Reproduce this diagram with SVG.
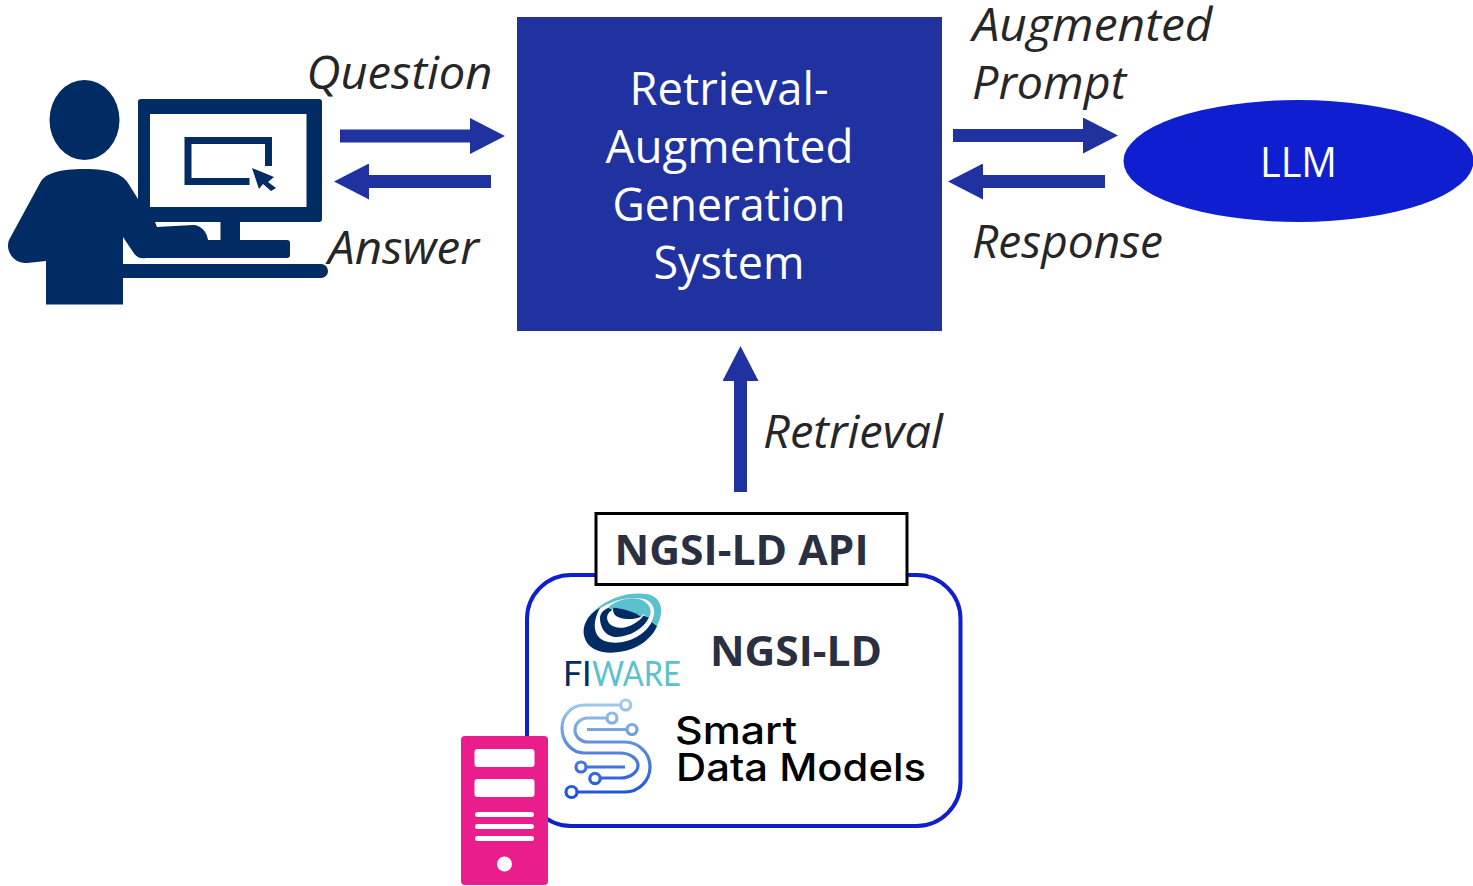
<svg xmlns="http://www.w3.org/2000/svg" width="1473" height="886" viewBox="0 0 1473 886">
<style>
text{font-family:"Open Sans","Noto Sans","Liberation Sans",sans-serif}
.w{fill:#fff;font-size:45px;text-anchor:middle}
.i{fill:#262626;font-size:45px;font-style:italic}
.b{fill:#2a3042;font-size:41px;font-weight:700}
.s{fill:#000;font-size:38px;font-weight:500;font-family:Inter,"Open Sans",sans-serif}
.f{font-size:34px;font-weight:400;font-family:Lato,"Open Sans",sans-serif}
.a{stroke:#1f32a0;stroke-width:13;fill:none}
.n{fill:#002b63}
.lg{fill:none;stroke:url(#sdm);stroke-width:3.200}
</style>
<defs>
<marker id="h" markerUnits="userSpaceOnUse" markerWidth="36" markerHeight="36" refX="0" refY="18" orient="auto"><path d="M0,0L35,18L0,36Z" fill="#1f32a0"/></marker>
<linearGradient id="sdm" gradientUnits="userSpaceOnUse" x1="0" y1="700" x2="0" y2="798"><stop offset="0" stop-color="#a5d0ea"/><stop offset=".45" stop-color="#5f8fdc"/><stop offset="1" stop-color="#1a4fd8"/></linearGradient>
</defs>

<g id="connectors">
<line class="a" x1="340" y1="136" x2="470" y2="136" marker-end="url(#h)"/>
<line class="a" x1="491" y1="181.500" x2="369" y2="181.500" marker-end="url(#h)"/>
<line class="a" x1="953" y1="135.500" x2="1083" y2="135.500" marker-end="url(#h)"/>
<line class="a" x1="1105" y1="181.500" x2="983" y2="181.500" marker-end="url(#h)"/>
<line class="a" x1="740.500" y1="492" x2="740.500" y2="381" marker-end="url(#h)"/>
</g>

<g id="user">
<ellipse class="n" cx="84.500" cy="120" rx="35" ry="40"/>
<path class="n" fill-rule="evenodd" d="M141,99H319a3,3 0 0 1 3,3V219a3,3 0 0 1 -3,3H240V240H287a3,3 0 0 1 3,3V255a3,3 0 0 1 -3,3H146C140,259 136,257 133,252L123,237V304.500H46V261L27,263C13,264 5,250 9,240L40,183C45,173 60,169 85,169C110,169 122,174 128,183L138,199V102a3,3 0 0 1 3,-3ZM150,114V207H306.500V114ZM155,222L157,227L193,225C201,225 207,232 208,240H220.500V222Z"/>
<path class="n" d="M120,264H321a7,7 0 0 1 0,14H120Z"/>
<path d="M249.500,181.500H188V140.500H268.500V166" fill="none" stroke="#002b63" stroke-width="7"/>
<path class="n" d="M252,168L274,177L268,182L276,188L271,191L263,184L259,189Z"/>
</g>

<g id="rag">
<rect x="517" y="17" width="425" height="314" fill="#1f32a0"/>
<text class="w" x="729" y="105" textLength="199" lengthAdjust="spacingAndGlyphs">Retrieval-</text>
<text class="w" x="729.500" y="163" textLength="248" lengthAdjust="spacingAndGlyphs">Augmented</text>
<text class="w" x="729" y="221" textLength="233" lengthAdjust="spacingAndGlyphs">Generation</text>
<text class="w" x="729" y="279" textLength="151" lengthAdjust="spacingAndGlyphs">System</text>
</g>

<g id="llm">
<ellipse cx="1298.500" cy="161" rx="175" ry="61" fill="#0f1fd0"/>
<text class="w" x="1298.500" y="177" style="font-size:42px" textLength="77" lengthAdjust="spacingAndGlyphs">LLM</text>
</g>

<g id="labels">
<text class="i" x="306.500" y="89" textLength="186" lengthAdjust="spacingAndGlyphs">Question</text>
<text class="i" x="328" y="264" textLength="151" lengthAdjust="spacingAndGlyphs">Answer</text>
<text class="i" x="972.500" y="41" textLength="240" lengthAdjust="spacingAndGlyphs">Augmented</text>
<text class="i" x="972" y="99" textLength="154" lengthAdjust="spacingAndGlyphs">Prompt</text>
<text class="i" x="972" y="258" textLength="191" lengthAdjust="spacingAndGlyphs">Response</text>
<text class="i" x="763" y="448" textLength="180" lengthAdjust="spacingAndGlyphs">Retrieval</text>
</g>

<g id="broker">
<rect x="527" y="575" width="433.500" height="251" rx="44" fill="#fff" stroke="#0f1fd0" stroke-width="4"/>
<text class="b" x="710" y="666" textLength="172" lengthAdjust="spacingAndGlyphs">NGSI-LD</text>
<text class="s" x="675" y="744" textLength="122" lengthAdjust="spacingAndGlyphs">Smart</text>
<text class="s" x="676" y="781" textLength="250" lengthAdjust="spacingAndGlyphs">Data Models</text>
</g>

<g id="api">
<rect x="596" y="513.500" width="311" height="71" fill="#fff" stroke="#000" stroke-width="3"/>
<text class="b" x="614.500" y="565" textLength="254" lengthAdjust="spacingAndGlyphs">NGSI-LD API</text>
</g>

<g id="fiware">
<g transform="translate(555,585) scale(.33333)">
<path fill="#5cc1cf" d="M95,105C130,50 210,15 280,28C320,38 330,80 305,125L288,113C305,85 300,55 270,43C215,28 145,55 115,88Z"/>
<path class="n" d="M135,68C95,90 80,125 88,155C100,205 170,215 235,190C270,175 295,150 306,124L290,112C270,150 215,180 165,172C120,165 105,125 135,68Z"/>
<path fill="#5cc1cf" d="M160,68C185,40 245,30 270,50C290,65 290,85 282,97L265,90C275,70 265,55 240,48C210,45 180,60 172,74Z"/>
<path class="n" d="M135,100C135,85 145,75 160,68L172,75C155,85 150,100 165,118C190,140 240,125 265,92L282,97C265,135 215,160 175,155C150,152 135,125 135,100Z"/>
<path fill="#5cc1cf" d="M175,68C190,45 240,35 265,50C280,65 270,85 258,95C240,80 205,70 175,68Z"/>
<path class="n" d="M175,68C205,70 240,80 258,95C235,105 195,105 180,90C175,83 172,75 175,68Z"/>
</g>
<text class="f n" x="563 582" y="686">FI</text>
<text class="f" x="592" y="686" fill="#5cc1cf" textLength="89" lengthAdjust="spacingAndGlyphs">WARE</text>
</g>

<g id="sdm-logo">
<path class="lg" d="M621,705H584A22,23 0 0 0 562,728A22,25 0 0 0 584,753H620A18,12.500 0 0 1 638,765.500A18,12.500 0 0 1 620,778H600"/>
<circle class="lg" cx="625.700" cy="705" r="5"/>
<path class="lg" d="M607,718H588A13,12 0 0 0 588,742H625A25,25 0 0 1 650,767A25,25 0 0 1 625,792H577"/>
<circle class="lg" cx="612" cy="718" r="5"/>
<path class="lg" d="M587,729.500H627"/>
<circle class="lg" cx="632" cy="729.500" r="5"/>
<path class="lg" d="M586,767H625"/>
<circle class="lg" cx="581" cy="767" r="5"/>
<circle class="lg" cx="595" cy="778.500" r="5.200"/>
<circle class="lg" cx="571.500" cy="792" r="5.500"/>
</g>

<g id="server">
<rect x="461" y="736" width="87" height="149" rx="4" fill="#e91e8c"/>
<g fill="#fff">
<rect x="474.500" y="749" width="60" height="18" rx="3"/>
<rect x="474.500" y="779" width="60" height="18" rx="3"/>
<rect x="475" y="812" width="59" height="5" rx="2.500"/>
<rect x="475" y="824" width="59" height="5" rx="2.500"/>
<rect x="475" y="836" width="59" height="5" rx="2.500"/>
<circle cx="504.500" cy="864" r="7.500"/>
</g>
</g>
</svg>
